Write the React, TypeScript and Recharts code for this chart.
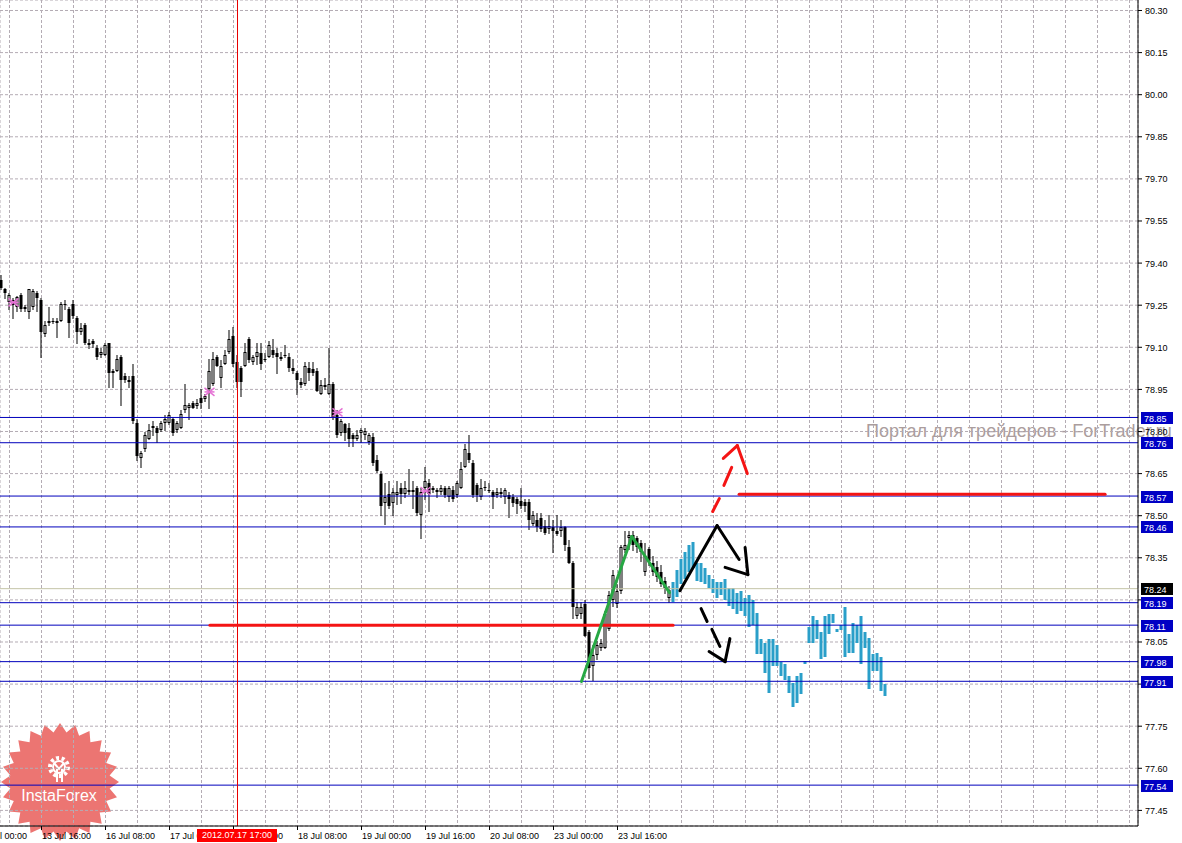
import React from "react";
import {
  ComposedChart,
  Bar,
  Scatter,
  XAxis,
  YAxis,
  CartesianGrid,
  ReferenceLine,
} from "recharts";

const FONT = "'Liberation Sans', Arial, sans-serif";
const W = 1182;
const H = 843;

// H1 bars, one row per bar: [open, high, low, close]
const ohlc: number[][] = [
  [79.338, 79.356, 79.306, 79.313], [79.306, 79.313, 79.277, 79.292], [79.263, 79.292, 79.235, 79.285],
  [79.267, 79.274, 79.206, 79.249], [79.242, 79.281, 79.231, 79.278], [79.285, 79.295, 79.231, 79.235],
  [79.245, 79.249, 79.231, 79.235], [79.224, 79.306, 79.206, 79.306], [79.242, 79.309, 79.238, 79.299],
  [79.292, 79.302, 79.231, 79.274], [79.267, 79.274, 79.064, 79.153], [79.146, 79.195, 79.142, 79.178],
  [79.185, 79.242, 79.178, 79.195], [79.192, 79.203, 79.188, 79.195], [79.195, 79.203, 79.135, 79.185],
  [79.195, 79.263, 79.192, 79.256], [79.249, 79.267, 79.235, 79.253], [79.235, 79.242, 79.135, 79.185],
  [79.256, 79.267, 79.203, 79.213], [79.206, 79.213, 79.114, 79.153], [79.153, 79.185, 79.149, 79.167],
  [79.178, 79.185, 79.110, 79.114], [79.107, 79.131, 79.096, 79.117], [79.121, 79.131, 79.100, 79.110],
  [79.096, 79.107, 79.060, 79.064], [79.074, 79.096, 79.067, 79.085], [79.074, 79.114, 79.071, 79.107],
  [79.114, 79.117, 78.957, 79.007], [79.017, 79.021, 78.957, 79.007], [79.017, 79.071, 79.014, 79.057],
  [79.064, 79.071, 78.896, 78.982], [78.996, 79.007, 78.978, 78.985], [78.975, 78.996, 78.957, 78.985],
  [78.996, 79.042, 78.832, 78.839], [78.832, 78.846, 78.697, 78.711], [78.704, 78.732, 78.675, 78.725],
  [78.736, 78.797, 78.732, 78.786], [78.775, 78.825, 78.772, 78.807], [78.811, 78.836, 78.786, 78.821],
  [78.811, 78.821, 78.761, 78.793], [78.807, 78.839, 78.800, 78.829], [78.832, 78.857, 78.804, 78.846],
  [78.832, 78.868, 78.825, 78.857], [78.846, 78.853, 78.786, 78.793], [78.807, 78.839, 78.797, 78.829],
  [78.814, 78.875, 78.811, 78.864], [78.875, 78.971, 78.871, 78.896], [78.885, 78.903, 78.846, 78.896],
  [78.903, 78.910, 78.882, 78.885], [78.892, 78.914, 78.885, 78.903], [78.921, 78.953, 78.885, 78.903],
  [78.917, 78.935, 78.910, 78.925], [78.953, 79.060, 78.885, 79.017], [78.971, 79.085, 78.967, 79.057],
  [79.064, 79.071, 79.032, 79.035], [78.992, 79.053, 78.957, 79.035], [79.042, 79.089, 79.039, 79.074],
  [79.082, 79.160, 79.078, 79.131], [79.142, 79.171, 79.035, 79.042], [79.046, 79.071, 78.960, 78.975],
  [79.025, 79.035, 78.928, 78.975], [79.035, 79.117, 79.032, 79.082], [79.128, 79.135, 79.046, 79.053],
  [79.046, 79.071, 79.042, 79.064], [79.064, 79.114, 79.042, 79.082], [79.078, 79.114, 79.021, 79.042],
  [79.057, 79.078, 79.050, 79.053], [79.064, 79.124, 79.064, 79.107], [79.089, 79.131, 79.067, 79.071],
  [79.078, 79.096, 79.007, 79.064], [79.057, 79.082, 79.053, 79.067], [79.071, 79.107, 79.067, 79.074],
  [79.064, 79.078, 79.017, 79.028], [79.025, 79.057, 79.010, 79.014], [79.007, 79.017, 78.935, 78.982],
  [78.975, 78.992, 78.957, 78.964], [78.971, 79.046, 78.967, 79.035], [79.025, 79.046, 78.982, 79.007],
  [79.021, 79.046, 79.003, 79.007], [79.017, 79.025, 78.946, 78.946], [78.935, 78.985, 78.932, 78.967],
  [78.957, 78.992, 78.953, 78.967], [78.935, 79.096, 78.932, 78.971], [78.971, 78.975, 78.846, 78.850],
  [78.857, 78.875, 78.782, 78.786], [78.793, 78.846, 78.789, 78.836], [78.825, 78.832, 78.768, 78.793],
  [78.811, 78.829, 78.747, 78.775], [78.786, 78.793, 78.747, 78.772], [78.775, 78.804, 78.768, 78.786],
  [78.793, 78.814, 78.761, 78.807], [78.786, 78.811, 78.775, 78.800], [78.761, 78.793, 78.754, 78.786],
  [78.779, 78.793, 78.682, 78.686], [78.697, 78.715, 78.654, 78.661], [78.650, 78.661, 78.501, 78.536],
  [78.547, 78.618, 78.472, 78.565], [78.579, 78.625, 78.526, 78.536], [78.547, 78.600, 78.501, 78.583],
  [78.572, 78.625, 78.543, 78.586], [78.597, 78.618, 78.547, 78.579], [78.576, 78.625, 78.568, 78.597],
  [78.583, 78.665, 78.576, 78.593], [78.590, 78.625, 78.526, 78.586], [78.597, 78.607, 78.504, 78.511],
  [78.501, 78.597, 78.422, 78.583], [78.597, 78.675, 78.561, 78.625], [78.615, 78.632, 78.518, 78.576],
  [78.600, 78.607, 78.583, 78.590], [78.583, 78.600, 78.565, 78.590], [78.583, 78.611, 78.576, 78.600],
  [78.597, 78.607, 78.568, 78.572], [78.565, 78.607, 78.554, 78.597], [78.590, 78.607, 78.554, 78.561],
  [78.572, 78.625, 78.565, 78.615], [78.600, 78.690, 78.597, 78.665], [78.675, 78.757, 78.672, 78.736],
  [78.725, 78.786, 78.690, 78.697], [78.686, 78.700, 78.565, 78.572], [78.608, 78.615, 78.554, 78.572],
  [78.565, 78.629, 78.561, 78.597], [78.604, 78.625, 78.593, 78.597], [78.590, 78.618, 78.583, 78.593],
  [78.586, 78.593, 78.526, 78.565], [78.572, 78.597, 78.565, 78.586], [78.586, 78.597, 78.565, 78.576],
  [78.565, 78.600, 78.547, 78.590], [78.572, 78.583, 78.494, 78.561], [78.565, 78.576, 78.536, 78.547],
  [78.558, 78.568, 78.508, 78.543], [78.554, 78.600, 78.526, 78.533], [78.550, 78.558, 78.518, 78.536],
  [78.550, 78.558, 78.454, 78.486], [78.472, 78.518, 78.468, 78.504], [78.486, 78.508, 78.447, 78.458],
  [78.493, 78.508, 78.447, 78.451], [78.465, 78.483, 78.436, 78.440], [78.454, 78.504, 78.440, 78.465],
  [78.458, 78.483, 78.372, 78.447], [78.447, 78.501, 78.433, 78.436], [78.444, 78.483, 78.429, 78.461],
  [78.458, 78.465, 78.376, 78.394], [78.390, 78.412, 78.330, 78.333], [78.333, 78.340, 78.134, 78.173],
  [78.144, 78.194, 78.137, 78.173], [78.148, 78.191, 78.134, 78.176], [78.184, 78.198, 78.070, 78.073],
  [78.084, 78.091, 77.923, 77.959], [77.966, 78.038, 77.913, 78.002], [78.002, 78.055, 77.991, 78.038],
  [78.030, 78.062, 78.020, 78.048], [78.030, 78.162, 78.027, 78.151], [78.098, 78.233, 78.091, 78.216],
  [78.198, 78.305, 78.180, 78.287], [78.184, 78.258, 78.176, 78.233], [78.233, 78.394, 78.226, 78.387],
  [78.376, 78.447, 78.369, 78.394], [78.419, 78.447, 78.383, 78.433], [78.433, 78.444, 78.376, 78.394],
  [78.419, 78.429, 78.369, 78.387], [78.401, 78.412, 78.340, 78.369], [78.298, 78.401, 78.287, 78.358],
  [78.383, 78.390, 78.323, 78.340], [78.330, 78.358, 78.287, 78.298], [78.316, 78.340, 78.269, 78.280],
  [78.298, 78.323, 78.251, 78.258], [78.269, 78.283, 78.226, 78.241], [78.205, 78.248, 78.191, 78.237],
];

// projection histogram after the last bar
const projLow = [
  78.191, 78.209, 78.258, 78.276, 78.298, 78.315, 78.269, 78.262, 78.258, 78.244, 78.226, 78.205,
  78.216, 78.198, 78.180, 78.169, 78.151, 78.162, 78.144, 78.102, 78.109, 78.009, 78.009, 77.941,
  77.870, 77.966, 77.966, 77.930, 77.913, 77.870, 77.817, 77.834, 77.866, 77.973, 78.045, 78.045,
  78.062, 77.991, 77.995, 78.080, 78.116, 78.084, 78.091, 77.995, 78.012, 78.012, 78.045, 77.973,
  78.030, 77.884, 77.948, 77.948, 77.877, 77.859,
];
const projHigh = [
  78.262, 78.305, 78.347, 78.369, 78.394, 78.408, 78.333, 78.333, 78.315, 78.290, 78.273, 78.262,
  78.262, 78.273, 78.241, 78.241, 78.226, 78.233, 78.205, 78.216, 78.198, 78.155, 78.062, 78.048,
  78.062, 78.062, 78.038, 77.977, 77.973, 77.930, 77.905, 77.930, 77.938, 77.984, 78.102, 78.144,
  78.127, 78.084, 78.144, 78.151, 78.151, 78.098, 78.109, 78.173, 78.080, 78.119, 78.109, 78.144,
  78.084, 78.066, 78.009, 78.012, 77.995, 77.902,
];

const priceTicks = [
  77.45, 77.6, 77.75, 77.9, 78.05, 78.2, 78.35, 78.5, 78.65, 78.8,
  78.95, 79.1, 79.25, 79.4, 79.55, 79.7, 79.85, 80.0, 80.15, 80.3,
];

const timeTickBars = [-6, 10, 26, 42, 58, 74, 90, 106, 122, 138, 154];
const timeLabels = [
  "13 Jul 00:00", "13 Jul 16:00", "16 Jul 08:00", "17 Jul 00:00", "17 Jul 16:00", "18 Jul 08:00",
  "19 Jul 00:00", "19 Jul 16:00", "20 Jul 08:00", "23 Jul 00:00", "23 Jul 16:00",
];
const gridBars = Array.from({ length: 36 }, (_, i) => 2 + 8 * i);

const levels = [78.85, 78.76, 78.57, 78.46, 78.19, 78.11, 77.98, 77.91, 77.54];
const bidLevel = 78.24;
const tagLevels = [...levels, bidLevel];
const cursorBar = 59;
const cursorLabel = "2012.07.17 17:00";

// fractal marks
const markerBars = [3, 52, 84, 106];
const markerPrices = [79.26, 78.941, 78.868, 78.588];

// hand drawn lines: polylines of [bar, price]
const greenStrokes = [[[145, 77.909], [157.6, 78.426], [167, 78.226]]];
const blackStrokes = [
  [[169.6, 78.233], [178.9, 78.465], [184.4, 78.344]],
  [[180.9, 78.316], [186.6, 78.29]],
  [[185.9, 78.387], [186.6, 78.29]],
  [[174.9, 78.169], [176.4, 78.123]],
  [[177.6, 78.095], [179.6, 78.034]],
  [[176.9, 78.016], [180.9, 77.98]],
  [[182.1, 78.062], [180.9, 77.98]],
];
const redStrokes = [
  [[177.8, 78.515], [179.45, 78.561]],
  [[180.6, 78.608], [182.55, 78.672]],
  [[180.45, 78.704], [183.95, 78.75], [186.45, 78.65]],
];
const redLevels = [
  [[52.1, 78.11], [167.9, 78.11]],
  [[184.4, 78.576], [275.9, 78.576]],
];

const rows = [
  ...ohlc.map(([o, h, l, c], k) => ({ k, o, h, l, c, range: [l, h], kind: "candle" })),
  ...projLow.map((lo, i) => ({ k: ohlc.length + i, range: [lo, projHigh[i]], kind: "proj" })),
];
const markers = markerBars.map((k, i) => ({ k, p: markerPrices[i] }));

function CandleShape(props: any) {
  const { x, y, width, height, payload } = props;
  if (x == null || y == null || !payload) return null;
  const cx = x + width / 2;
  const top = Math.round(y);
  const bot = Math.round(y + height);
  if (payload.kind === "proj") {
    return <rect x={cx - 1.5} y={top} width={3} height={Math.max(1, bot - top)} fill="#2a9fc9" />;
  }
  const ratio = height / (payload.h - payload.l);
  const bTop = Math.round(y + (payload.h - Math.max(payload.o, payload.c)) * ratio);
  const bBot = Math.round(y + (payload.h - Math.min(payload.o, payload.c)) * ratio);
  const bh = Math.max(1, bBot - bTop);
  const up = payload.c > payload.o;
  return (
    <g>
      <rect x={cx - 0.5} y={top} width={1} height={Math.max(1, bot - top + 1)} fill="#000" />
      <rect x={cx - 1.5} y={bTop} width={3} height={bh} fill="#000" />
      {up && bh > 2 && <rect x={cx - 0.5} y={bTop + 1} width={1} height={bh - 2} fill="#fff" />}
    </g>
  );
}

function StarMark(props: any) {
  const { cx, cy } = props;
  if (cx == null) return null;
  return (
    <g stroke="#e470d4" strokeWidth={1.5}>
      <line x1={cx - 5} y1={cy - 4} x2={cx + 5} y2={cy + 4} />
      <line x1={cx - 5} y1={cy + 4} x2={cx + 5} y2={cy - 4} />
      <line x1={cx - 5} y1={cy} x2={cx + 5} y2={cy} />
    </g>
  );
}

function PriceTick(props: any) {
  const { x, y, payload } = props;
  return (
    <text x={x + 1} y={y + 3.5} fontSize={9} fontFamily={FONT} fill="#000" textAnchor="start">
      {Number(payload.value).toFixed(2)}
    </text>
  );
}

// boxed level prices, drawn by a second axis so that they cover the plain tick labels
function TagTick(props: any) {
  const { x, y, payload } = props;
  const v = Number(payload.value);
  const bx = x > 1160 ? x - 40 : x + 3;
  const ty = Math.floor(y);
  return (
    <g>
      <rect x={bx} y={ty - 5} width={32} height={12} fill={v === bidLevel ? "#000" : "#0000c4"} />
      <text x={bx + 3} y={ty + 5} fontSize={9} fontFamily={FONT} fill="#fff" textAnchor="start">
        {v.toFixed(2)}
      </text>
    </g>
  );
}

function TimeTick(props: any) {
  const { x, y, payload } = props;
  const i = timeTickBars.indexOf(payload.value);
  return (
    <text x={x + 0.5} y={y + 7} fontSize={9} fontFamily={FONT} fill="#000" textAnchor="start">
      {timeLabels[i]}
    </text>
  );
}

function segments(strokes: number[][][], color: string, width: number, prefix: string) {
  return strokes.flatMap((s, si) =>
    s.slice(1).map((pt, i) => (
      <ReferenceLine
        key={`${prefix}-${si}-${i}`}
        segment={[{ x: s[i][0], y: s[i][1] }, { x: pt[0], y: pt[1] }]}
        stroke={color}
        strokeWidth={width}
        strokeLinecap="round"
        ifOverflow="visible"
      />
    ))
  );
}

function Badge() {
  const cx = 60;
  const cy = 782;
  const n = 24;
  const pts = Array.from({ length: 2 * n }, (_, i) => {
    const r = i % 2 ? 50 : 59;
    const a = (Math.PI * i) / n - Math.PI / 2;
    return `${(cx + r * Math.cos(a)).toFixed(1)},${(cy + r * Math.sin(a)).toFixed(1)}`;
  }).join(" ");
  return (
    <g>
      <polygon points={pts} fill="#e43a36" fillOpacity={0.7} />
      <circle cx={59} cy={767} r={9} fill="none" stroke="#fff" strokeWidth={4} strokeDasharray="3 2.6" />
      <circle cx={59} cy={767} r={6} fill="none" stroke="#fff" strokeWidth={2} />
      <path d="M54 763 L59 769 L64 763" fill="none" stroke="#fff" strokeWidth={2} />
      <rect x={56} y={769} width={2} height={13} fill="#fff" />
      <rect x={61} y={769} width={2} height={13} fill="#fff" />
      <text x={59} y={801} textAnchor="middle" fontSize={16} fontFamily={FONT} fill="#fff">
        InstaForex
      </text>
    </g>
  );
}

export default function App() {
  return (
    <div style={{ position: "absolute", left: 0, top: 0, width: W, height: H, background: "#fff", overflow: "hidden", fontFamily: FONT }}>
      <svg width={W} height={H} style={{ position: "absolute", left: 0, top: 0 }}>
        <Badge />
        <text x={866} y={437} fontSize={18} fontFamily={FONT} fill="#ab9d9d">
          Портал для трейдеров - ForTrader.ru
        </text>
      </svg>
      <div style={{ position: "absolute", left: 0, top: 0 }}>
        <ComposedChart width={W} height={H} data={rows} margin={{ top: 0, right: 0, bottom: 0, left: 0 }}>
          <XAxis
            xAxisId="grid"
            dataKey="k"
            type="number"
            domain={[-0.375, 284.125]}
            allowDataOverflow
            ticks={gridBars}
            interval={0}
            hide
          />
          <XAxis
            dataKey="k"
            type="number"
            domain={[-0.375, 284.125]}
            allowDataOverflow
            ticks={timeTickBars}
            interval={0}
            height={17}
            tickSize={4}
            tick={<TimeTick />}
            axisLine={{ stroke: "#000" }}
            tickLine={{ stroke: "#000" }}
          />
          <YAxis
            orientation="right"
            type="number"
            domain={[77.3944, 80.3374]}
            allowDataOverflow
            ticks={priceTicks}
            interval={0}
            width={43}
            tickSize={4}
            tick={<PriceTick />}
            axisLine={{ stroke: "#000" }}
            tickLine={{ stroke: "#000" }}
          />
          <YAxis
            yAxisId="tags"
            orientation="right"
            type="number"
            domain={[77.3944, 80.3374]}
            allowDataOverflow
            ticks={tagLevels}
            interval={0}
            width={1}
            tickSize={0}
            tickMargin={0}
            axisLine={false}
            tickLine={false}
            tick={<TagTick />}
          />
          <CartesianGrid xAxisId="grid" stroke="#b4acb4" strokeDasharray="3 2" />

          <ReferenceLine y={bidLevel} stroke="#c4c4a8" />
          {levels.map((lv) => (
            <ReferenceLine key={lv} y={lv} stroke="#0000bc" />
          ))}
          <ReferenceLine x={cursorBar} stroke="#e80000" />

          <Bar dataKey="range" barSize={3} shape={<CandleShape />} isAnimationActive={false} />
          <Scatter data={markers} dataKey="p" shape={<StarMark />} isAnimationActive={false} />

          {segments(redLevels, "#f41414", 3, "rl")}
          {segments(greenStrokes, "#27a844", 3, "g")}
          {segments(blackStrokes, "#000", 3, "b")}
          {segments(redStrokes, "#f41414", 3, "r")}
        </ComposedChart>
      </div>
      <div
        style={{
          position: "absolute",
          left: 197,
          top: 829,
          width: 80,
          height: 13,
          background: "#ff0000",
          color: "#fff",
          fontSize: 9,
          lineHeight: "13px",
          textAlign: "center",
          fontFamily: FONT,
        }}
      >
        {cursorLabel}
      </div>
    </div>
  );
}
